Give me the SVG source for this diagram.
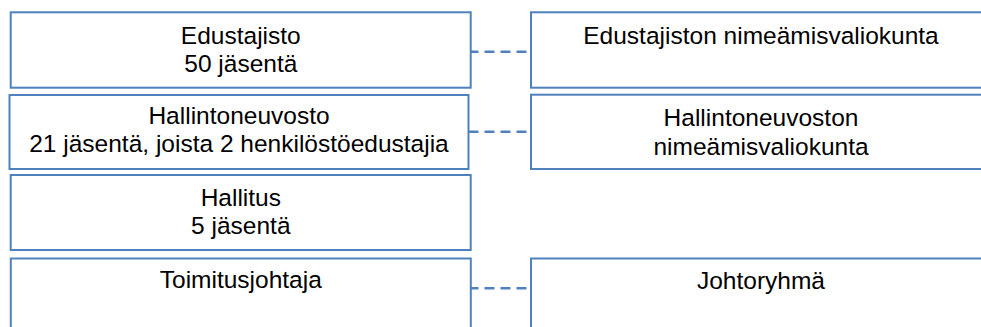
<svg xmlns="http://www.w3.org/2000/svg" width="981" height="327" viewBox="0 0 981 327">
<style>
.box{fill:#ffffff;stroke:#4F81BD;stroke-width:2}
.t{font-family:"Liberation Sans",Arial,sans-serif;font-size:24.5px;fill:#000000;text-anchor:middle}
.c{stroke:#4F81BD;stroke-width:2.5;stroke-dasharray:10 6;fill:none}
</style>
<rect width="981" height="327" fill="#ffffff"/>
<g id="connectors">
<line class="c" x1="468.5" y1="51.7" x2="531" y2="51.7"/>
<line class="c" x1="468.5" y1="131.7" x2="531" y2="131.7"/>
<line class="c" x1="468.5" y1="288.3" x2="531" y2="288.3"/>
</g>
<g id="edustajisto">
<rect class="box" x="10.7" y="12.3" width="460" height="75.4"/>
<text class="t" x="240.8" y="44.3">Edustajisto</text>
<text class="t" x="240.8" y="71.7">50 jäsentä</text>
</g>
<g id="hallintoneuvosto">
<rect class="box" x="9.5" y="95" width="459" height="74"/>
<text class="t" x="239" y="124.3">Hallintoneuvosto</text>
<text class="t" x="239" y="151.7">21 jäsentä, joista 2 henkilöstöedustajia</text>
</g>
<g id="hallitus">
<rect class="box" x="10.7" y="175" width="460" height="75"/>
<text class="t" x="240.8" y="205.7">Hallitus</text>
<text class="t" x="240.8" y="234">5 jäsentä</text>
</g>
<g id="toimitusjohtaja">
<rect class="box" x="10.8" y="258.5" width="460" height="80"/>
<text class="t" x="240.8" y="288.3">Toimitusjohtaja</text>
</g>
<g id="edustajiston-nimeamisvaliokunta">
<rect class="box" x="531" y="12.3" width="460" height="75.4"/>
<text class="t" x="761" y="44">Edustajiston nimeämisvaliokunta</text>
</g>
<g id="hallintoneuvoston-nimeamisvaliokunta">
<rect class="box" x="531" y="94.7" width="460" height="74.3"/>
<text class="t" x="761" y="126">Hallintoneuvoston</text>
<text class="t" x="761" y="155">nimeämisvaliokunta</text>
</g>
<g id="johtoryhma">
<rect class="box" x="531" y="258.5" width="460" height="80"/>
<text class="t" x="761" y="289">Johtoryhmä</text>
</g>
</svg>
